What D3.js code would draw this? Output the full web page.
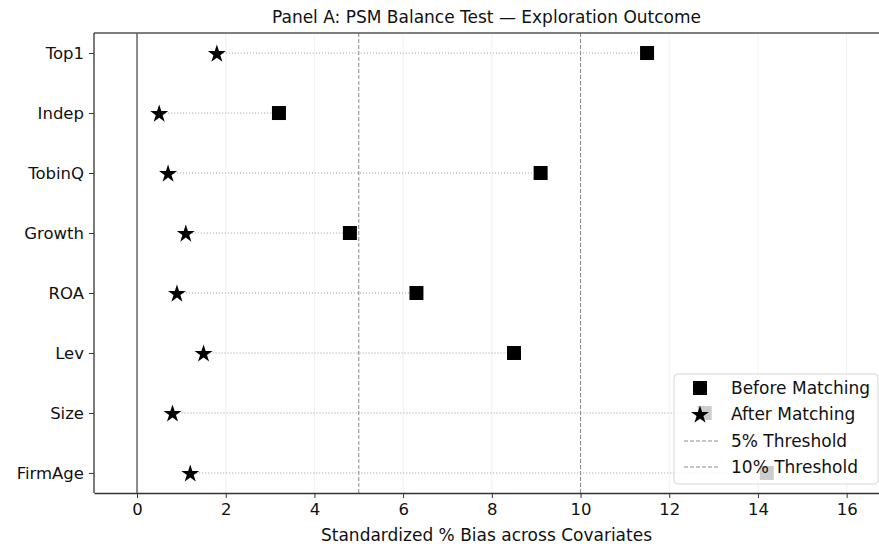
<!DOCTYPE html>
<html lang="en">
<head>
<meta charset="UTF-8">
<script src="https://d3js.org/d3.v7.min.js"></script>
<style>
  body { margin: 0; overflow: hidden; background: white; }
  text { font-family: "DejaVu Sans", sans-serif; fill: #111; }
</style>
</head>
<body>
<script>
const covariates = ["Top1", "Indep", "TobinQ", "Growth", "ROA", "Lev", "Size", "FirmAge"];
const beforeBias = [11.5, 3.2, 9.1, 4.8, 6.3, 8.5, 12.8, 14.2];
const afterBias  = [1.8, 0.5, 0.7, 1.1, 0.9, 1.5, 0.8, 1.2];
const xTicks = [0, 2, 4, 6, 8, 10, 12, 14, 16];
const thresholds = [5, 10];
const legendLabels = ["Before Matching", "After Matching", "5% Threshold", "10% Threshold"];

const width = 879, height = 547;
const margin = {top: 33, left: 94, right: -12, bottom: 54};

const svg = d3.select("body").append("svg")
  .attr("width", width)
  .attr("height", height);

const x = d3.scaleLinear()
  .domain([-0.97, 17.0])
  .range([margin.left, width - margin.right]);

const y = d3.scaleLinear()
  .domain([-0.334, covariates.length - 1 + 0.334])
  .range([margin.top, height - margin.bottom]);

const plotBottom = height - margin.bottom;

// faint vertical grid
svg.append("g").selectAll("line")
  .data(xTicks)
  .enter().append("line")
  .attr("x1", d => x(d)).attr("x2", d => x(d))
  .attr("y1", margin.top).attr("y2", plotBottom)
  .attr("stroke", "#eeeeee").attr("stroke-width", 0.8);

// zero line
svg.append("line")
  .attr("x1", x(0)).attr("x2", x(0))
  .attr("y1", margin.top).attr("y2", plotBottom)
  .attr("stroke", "#444").attr("stroke-width", 1.2);

// threshold lines
svg.append("g").selectAll("line")
  .data(thresholds)
  .enter().append("line")
  .attr("x1", d => x(d)).attr("x2", d => x(d))
  .attr("y1", margin.top).attr("y2", plotBottom)
  .attr("stroke", "#888").attr("stroke-width", 1)
  .attr("stroke-dasharray", "4,2");

const rows = covariates.map((c, i) => ({name: c, before: beforeBias[i], after: afterBias[i], i: i}));

// dotted connectors
svg.append("g").selectAll("line")
  .data(rows)
  .enter().append("line")
  .attr("x1", d => x(d.after)).attr("x2", d => x(d.before))
  .attr("y1", d => y(d.i)).attr("y2", d => y(d.i))
  .attr("stroke", "#999").attr("stroke-width", 1)
  .attr("stroke-dasharray", "1,2");

const sq = 14;
svg.append("g").selectAll("rect")
  .data(rows)
  .enter().append("rect")
  .attr("x", d => x(d.before) - sq / 2)
  .attr("y", d => y(d.i) - sq / 2)
  .attr("width", sq).attr("height", sq)
  .attr("fill", "black");

const star = d3.symbol().type(d3.symbolStar).size(100);
svg.append("g").selectAll("path")
  .data(rows)
  .enter().append("path")
  .attr("d", star)
  .attr("transform", d => `translate(${x(d.after)},${y(d.i) + 1})`)
  .attr("fill", "black");

// top spine
svg.append("line").attr("x1", margin.left).attr("x2", width)
  .attr("y1", margin.top).attr("y2", margin.top)
  .attr("stroke", "#555").attr("stroke-width", 1.3);

const xAxis = svg.append("g")
  .attr("transform", `translate(0,${plotBottom})`)
  .call(d3.axisBottom(x).tickValues(xTicks).tickSize(5).tickSizeOuter(0).tickPadding(5));
xAxis.select(".domain").attr("stroke", "#333").attr("stroke-width", 1.3);
xAxis.selectAll(".tick line").attr("stroke", "#333");
xAxis.selectAll(".tick text").style("font-size", "16.5px").attr("fill", "#111");

const yAxis = svg.append("g")
  .attr("transform", `translate(${margin.left},0)`)
  .call(d3.axisLeft(y).tickValues(d3.range(covariates.length))
    .tickFormat(i => covariates[i]).tickSize(5).tickPadding(5));
yAxis.select(".domain").attr("stroke", "#333").attr("stroke-width", 1.3)
  .attr("d", `M0,${margin.top}V${plotBottom}`);
yAxis.selectAll(".tick line").attr("stroke", "#333");
yAxis.selectAll(".tick text").style("font-size", "16.5px").attr("fill", "#111");

// title and label
svg.append("text")
  .attr("x", (margin.left + width) / 2)
  .attr("y", 23)
  .attr("text-anchor", "middle")
  .style("font-size", "17px")
  .text("Panel A: PSM Balance Test \u2014 Exploration Outcome");

svg.append("text")
  .attr("x", (margin.left + width) / 2)
  .attr("y", 541)
  .attr("text-anchor", "middle")
  .style("font-size", "17px")
  .text("Standardized % Bias across Covariates");

// legend
const legend = svg.append("g").attr("transform", "translate(674,374)");
legend.append("rect")
  .attr("width", 204).attr("height", 110)
  .attr("rx", 4)
  .attr("fill", "white").attr("fill-opacity", 0.8)
  .attr("stroke", "#d6d6d6");

const rowY = [14, 40, 67, 93];
legend.append("rect").attr("x", 26 - 7).attr("y", rowY[0] - 7)
  .attr("width", sq).attr("height", sq).attr("fill", "black");
legend.append("path").attr("d", star)
  .attr("transform", `translate(26,${rowY[1] + 1})`).attr("fill", "black");
[2, 3].forEach(k => {
  legend.append("line")
    .attr("x1", 10).attr("x2", 44)
    .attr("y1", rowY[k]).attr("y2", rowY[k])
    .attr("stroke", "#888").attr("stroke-width", 1)
    .attr("stroke-dasharray", "4,2");
});
legend.selectAll("text.lab")
  .data(legendLabels)
  .enter().append("text")
  .attr("class", "lab")
  .attr("x", 57)
  .attr("y", (d, i) => rowY[i])
  .attr("dy", "0.35em")
  .style("font-size", "17px")
  .text(d => d);
</script>
</body>
</html>
